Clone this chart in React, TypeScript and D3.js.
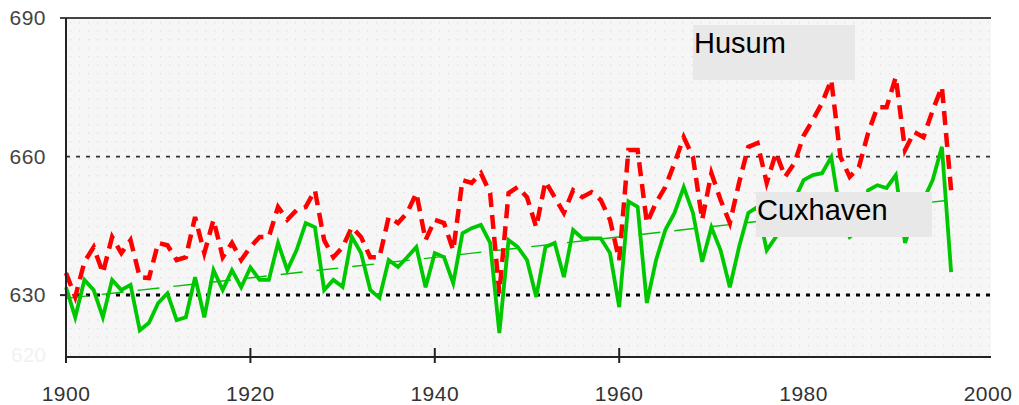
import React, { useEffect, useRef } from 'react';
import * as d3 from 'd3';

const WIDTH = 1019;
const HEIGHT = 405;

const years = d3.range(1900, 1997);

// Husum, annual mean high water (cm)
const husumValues = [
  634.8, 629.6, 637.2, 640.4, 634.8, 642.6, 639.1, 641.9, 633.9, 633.7,
  641.3, 640.8, 637.6, 638.2, 646.9, 639.1, 646.3, 638.2, 641.3, 637.6,
  640.4, 642.6, 642.6, 649.1, 646.3, 648.4, 649.1, 652.7, 641.9, 638.2,
  640.4, 644.7, 642.6, 638.2, 638.2, 646.9, 645.6, 647.8, 652.1, 641.9,
  646.3, 645.6, 639.7, 654.9, 654.3, 656.4, 652.1, 630.4, 652.1, 653.4,
  651.2, 644.7, 654.6, 651.2, 647.8, 652.7, 651.2, 652.3, 650.6, 646.3,
  637.6, 661.4, 661.4, 645.6, 650.0, 653.4, 658.6, 664.2, 659.9, 646.3,
  656.4, 650.6, 645.6, 654.3, 662.1, 662.9, 654.3, 660.8, 655.6, 658.6,
  664.5, 667.9, 671.6, 676.6, 659.9, 655.6, 657.7, 665.1, 670.7, 670.7,
  677.2, 661.4, 665.3, 664.2, 670.0, 675.1, 652.7,
];

// Cuxhaven, annual mean high water (cm)
const cuxhavenValues = [
  631.7, 625.2, 633.3, 631.1, 625.2, 633.3, 631.1, 632.2, 622.4, 624.0,
  628.3, 630.4, 624.6, 625.2, 633.9, 625.2, 635.4, 631.1, 635.4, 631.7,
  636.0, 633.3, 633.3, 641.3, 635.4, 639.7, 645.6, 644.7, 631.1, 633.3,
  631.8, 642.6, 639.1, 631.1, 629.4, 637.6, 636.1, 638.2, 640.4, 631.7,
  639.1, 638.2, 632.6, 643.4, 644.5, 645.2, 641.3, 621.8, 641.9, 640.4,
  637.6, 629.6, 640.4, 641.3, 633.9, 644.1, 642.3, 642.3, 642.3, 639.1,
  627.4, 650.3, 649.1, 628.3, 637.6, 644.1, 647.8, 653.4, 647.8, 637.2,
  644.7, 639.7, 631.7, 640.4, 647.8, 649.1, 639.7, 642.6, 647.3, 650.6,
  654.9, 656.0, 656.4, 659.9, 647.3, 642.6, 644.1, 652.7, 653.8, 653.2,
  656.0, 641.3, 647.3, 650.6, 654.9, 662.1, 635.0,
];

// thin trend line for Cuxhaven
const trendYears = [1900, 1996];
const trendValues = [629.3, 650.6];

const yTicks = [690, 660, 630];
const xTicks = [1900, 1920, 1940, 1960, 1980, 2000];

const PLOT = { left: 66, right: 988, top: 18, bottom: 357, edge: 991 };

const App: React.FC = () => {
  const svgRef = useRef<SVGSVGElement>(null);

  useEffect(() => {
    const svg = d3.select(svgRef.current);
    svg.selectAll('*').remove();

    const x = d3.scaleLinear().domain([1900, 2000]).range([PLOT.left, PLOT.right]);
    const y = d3.scaleLinear().domain([616.6, 690]).range([PLOT.bottom, PLOT.top]);

    // dotted background
    const defs = svg.append('defs');
    const pat = defs.append('pattern')
      .attr('id', 'dots')
      .attr('width', 9)
      .attr('height', 8.5)
      .attr('patternUnits', 'userSpaceOnUse')
      .attr('x', PLOT.left + 4)
      .attr('y', PLOT.top + 4);
    pat.append('rect').attr('width', 9).attr('height', 8.5).attr('fill', '#f6f6f6');
    pat.append('rect').attr('width', 1.2).attr('height', 1.2).attr('fill', '#dcdcdc');

    svg.append('rect')
      .attr('x', PLOT.left)
      .attr('y', PLOT.top)
      .attr('width', PLOT.edge - PLOT.left)
      .attr('height', PLOT.bottom - PLOT.top)
      .attr('fill', 'url(#dots)');

    // reference lines
    svg.append('line')
      .attr('x1', PLOT.left).attr('x2', PLOT.edge)
      .attr('y1', y(660)).attr('y2', y(660))
      .attr('stroke', '#333')
      .attr('stroke-width', 1.8)
      .attr('stroke-dasharray', '4,6');
    svg.append('line')
      .attr('x1', PLOT.left).attr('x2', PLOT.edge)
      .attr('y1', y(630)).attr('y2', y(630))
      .attr('stroke', '#000')
      .attr('stroke-width', 3)
      .attr('stroke-dasharray', '4,6');

    const line = d3.line<number>()
      .x((_, i) => x(years[i]))
      .y(d => y(d));

    // trend
    svg.append('path')
      .datum(trendValues)
      .attr('fill', 'none')
      .attr('stroke', '#00c000')
      .attr('stroke-width', 1.4)
      .attr('stroke-dasharray', '22,14')
      .attr('d', d3.line<number>().x((_, i) => x(trendYears[i])).y(d => y(d)));

    // Husum (dashed red)
    svg.append('path')
      .datum(husumValues)
      .attr('fill', 'none')
      .attr('stroke', '#ff0000')
      .attr('stroke-width', 4.5)
      .attr('stroke-dasharray', '14,8')
      .attr('d', line);

    // Cuxhaven (solid green)
    svg.append('path')
      .datum(cuxhavenValues)
      .attr('fill', 'none')
      .attr('stroke', '#00c800')
      .attr('stroke-width', 3.8)
      .attr('d', line);

    // frame and axes
    svg.append('line')
      .attr('x1', PLOT.left - 6).attr('x2', PLOT.edge)
      .attr('y1', PLOT.top).attr('y2', PLOT.top)
      .attr('stroke', '#444').attr('stroke-width', 2);
    svg.append('line')
      .attr('x1', PLOT.left).attr('x2', PLOT.left)
      .attr('y1', PLOT.top).attr('y2', PLOT.bottom + 6)
      .attr('stroke', '#222').attr('stroke-width', 2);
    svg.append('line')
      .attr('x1', PLOT.left).attr('x2', PLOT.edge)
      .attr('y1', PLOT.bottom).attr('y2', PLOT.bottom)
      .attr('stroke', '#222').attr('stroke-width', 2);

    const font = 'Liberation Sans, Arial, sans-serif';

    svg.selectAll('.xtick')
      .data(xTicks.slice(1, 4))
      .enter().append('line')
      .attr('x1', d => x(d)).attr('x2', d => x(d))
      .attr('y1', PLOT.bottom - 9).attr('y2', PLOT.bottom + 6)
      .attr('stroke', '#222').attr('stroke-width', 2);

    svg.selectAll('.ytick')
      .data([630])
      .enter().append('line')
      .attr('x1', PLOT.left - 6).attr('x2', PLOT.left)
      .attr('y1', d => y(d)).attr('y2', d => y(d))
      .attr('stroke', '#222').attr('stroke-width', 2);

    svg.selectAll('.xlabel')
      .data(xTicks)
      .enter().append('text')
      .attr('x', d => x(d))
      .attr('y', 401)
      .attr('text-anchor', 'middle')
      .style('font-family', font)
      .style('font-size', '21px')
      .style('letter-spacing', '0.5px')
      .style('fill', '#333')
      .text(d => d);

    svg.selectAll('.ylabel')
      .data(yTicks)
      .enter().append('text')
      .attr('x', 46)
      .attr('y', d => y(d) + 7)
      .attr('text-anchor', 'end')
      .style('font-family', font)
      .style('font-size', '21px')
      .style('letter-spacing', '0.5px')
      .style('fill', '#444')
      .text(d => d);

    // washed-out bottom label
    svg.append('text')
      .attr('x', 46)
      .attr('y', 362)
      .attr('text-anchor', 'end')
      .style('font-family', font)
      .style('font-size', '21px')
      .style('fill', '#f2f2f2')
      .text('620');

    // station labels
    const labels = [
      { name: 'Husum', x: 693, y: 25, w: 162, h: 55, base: 53 },
      { name: 'Cuxhaven', x: 756, y: 192, w: 176, h: 45, base: 220 },
    ];
    labels.forEach(l => {
      svg.append('rect')
        .attr('x', l.x).attr('y', l.y)
        .attr('width', l.w).attr('height', l.h)
        .attr('fill', '#e8e8e8');
      svg.append('text')
        .attr('x', l.x + 1)
        .attr('y', l.base)
        .style('font-family', font)
        .style('font-size', '29px')
        .style('fill', '#000')
        .text(l.name);
    });
  }, []);

  return (
    <svg
      ref={svgRef}
      width={WIDTH}
      height={HEIGHT}
      style={{ position: 'absolute', left: 0, top: 0, background: '#fff' }}
    />
  );
};

export default App;
